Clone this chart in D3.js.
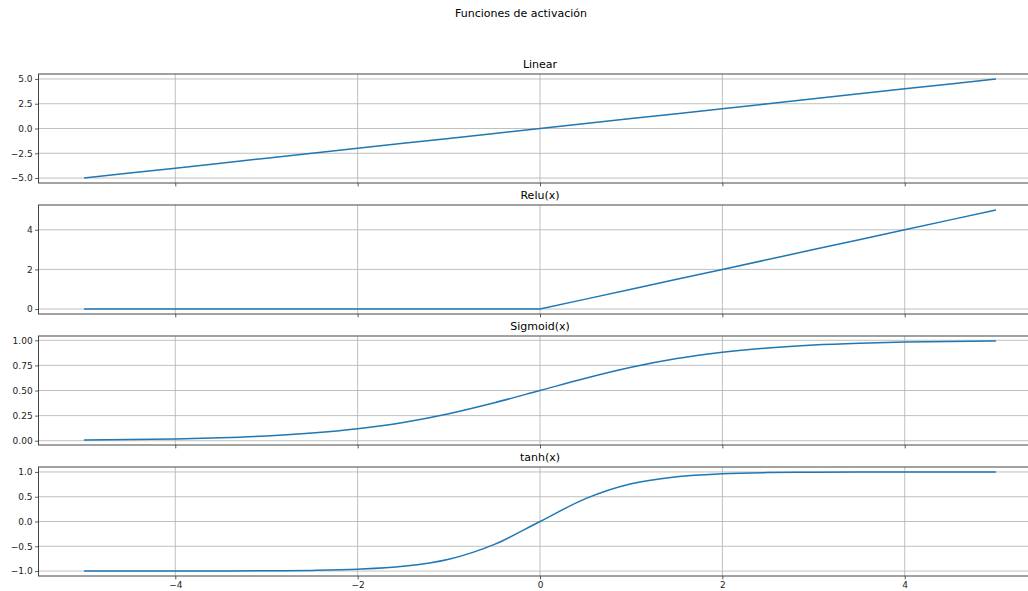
<!DOCTYPE html>
<html>
<head>
<meta charset="utf-8">
<script src="https://cdn.jsdelivr.net/npm/d3@7"></script>
<style>
  body { margin: 0; background: #fff; }
</style>
</head>
<body>
<div class="chart"></div>
<script>
// data
const xs = [-5, -4.5, -4, -3.5, -3, -2.5, -2, -1.5, -1, -0.5, 0, 0.5, 1, 1.5, 2, 2.5, 3, 3.5, 4, 4.5, 5]
const linearVals = [-5, -4.5, -4, -3.5, -3, -2.5, -2, -1.5, -1, -0.5, 0, 0.5, 1, 1.5, 2, 2.5, 3, 3.5, 4, 4.5, 5]
const reluVals = [0, 0, 0, 0, 0, 0, 0, 0, 0, 0, 0, 0.5, 1, 1.5, 2, 2.5, 3, 3.5, 4, 4.5, 5]
const sigmoidVals = [0.0067, 0.011, 0.018, 0.029, 0.047, 0.076, 0.119, 0.182, 0.269, 0.378, 0.5,
  0.622, 0.731, 0.818, 0.881, 0.924, 0.953, 0.971, 0.982, 0.989, 0.9933]
const tanhVals = [-0.9999, -0.9998, -0.9993, -0.998, -0.995, -0.987, -0.964, -0.905, -0.762, -0.462, 0,
  0.462, 0.762, 0.905, 0.964, 0.987, 0.995, 0.998, 0.9993, 0.9998, 0.9999]

const titles = ['Linear', 'Relu(x)', 'Sigmoid(x)', 'tanh(x)']
const xTicks = [-4, -2, 0, 2, 4]
const yTicks = [
  [-5, -2.5, 0, 2.5, 5],
  [0, 2, 4],
  [0, 0.25, 0.5, 0.75, 1],
  [-1, -0.5, 0, 0.5, 1]
]
const yDecimals = [1, 0, 2, 1]
const series = [linearVals, reluVals, sigmoidVals, tanhVals]

let width = 1028
let height = 591
let fontFamily = 'DejaVu Sans'
let left = 38.5
let right = 1041.5
let panelTop = 74
let panelH = 109
let panelStep = 131
let lineColor = '#1f77b4'

const svg = d3.select('.chart').append('svg')
  .attr('width', width)
  .attr('height', height)
  .attr('font-family', fontFamily)

svg.append('text')
  .attr('x', 521)
  .attr('y', 17)
  .attr('text-anchor', 'middle')
  .attr('font-size', 11)
  .text('Funciones de activación')

// shared x, matplotlib style 5% margin
const xPad = (d3.max(xs) - d3.min(xs)) * 0.05
const x = d3.scaleLinear()
  .domain([d3.min(xs) - xPad, d3.max(xs) + xPad])
  .range([left, right])

const fmtMinus = s => s.replace('-', '\u2212')

series.forEach((vals, i) => {
  const top = panelTop + i * panelStep
  const bottom = top + panelH
  const lo = d3.min(vals), hi = d3.max(vals)
  const pad = (hi - lo) * 0.05
  const y = d3.scaleLinear().domain([lo - pad, hi + pad]).range([bottom, top])

  const g = svg.append('g')

  // grid
  g.selectAll('.gx').data(xTicks).join('line')
    .attr('x1', d => x(d)).attr('x2', d => x(d))
    .attr('y1', top).attr('y2', bottom)
    .attr('stroke', '#b0b0b0').attr('stroke-width', 0.8)
  g.selectAll('.gy').data(yTicks[i]).join('line')
    .attr('x1', left).attr('x2', right)
    .attr('y1', d => y(d)).attr('y2', d => y(d))
    .attr('stroke', '#b0b0b0').attr('stroke-width', 0.8)

  // line
  const line = d3.line()
    .x((d, j) => x(xs[j]))
    .y(d => y(d))
    .curve(i < 2 ? d3.curveLinear : d3.curveMonotoneX)
  g.append('path')
    .datum(vals)
    .attr('fill', 'none')
    .attr('stroke', lineColor)
    .attr('stroke-width', 1.5)
    .attr('d', line)

  // frame
  g.append('rect')
    .attr('x', left).attr('y', top)
    .attr('width', right - left).attr('height', panelH)
    .attr('fill', 'none').attr('stroke', '#444').attr('stroke-width', 1)

  // axes
  const yAxis = d3.axisLeft(y)
    .tickValues(yTicks[i])
    .tickSize(3.4)
    .tickPadding(2.5)
    .tickFormat(d => fmtMinus(d3.format('.' + yDecimals[i] + 'f')(d)))
  const ya = g.append('g').attr('transform', `translate(${left},0)`).call(yAxis)
  ya.select('.domain').remove()

  const xAxis = d3.axisBottom(x)
    .tickValues(xTicks)
    .tickSize(3.4)
    .tickPadding(2.5)
    .tickFormat(i === 3 ? (d => fmtMinus(String(d))) : '')
  const xa = g.append('g').attr('transform', `translate(0,${bottom})`).call(xAxis)
  xa.select('.domain').remove()

  g.selectAll('.tick text').attr('font-size', 9).attr('fill', '#222').attr('font-family', fontFamily)
  g.selectAll('.tick line').attr('stroke', '#333').attr('stroke-width', 0.8)

  g.append('text')
    .attr('x', (left + right) / 2)
    .attr('y', top - 6)
    .attr('text-anchor', 'middle')
    .attr('font-size', 11)
    .text(titles[i])
})
</script>
</body>
</html>
